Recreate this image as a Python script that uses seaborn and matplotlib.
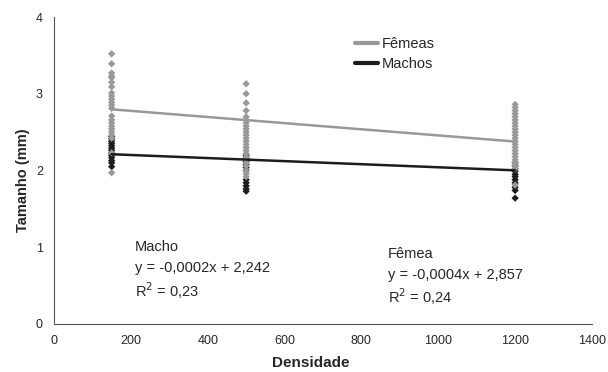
import pandas as pd
import numpy as np
import matplotlib
matplotlib.use("Agg")
import matplotlib.pyplot as plt
import seaborn as sns

# densidades avaliadas
densidades = [150, 500, 1200]

# tamanhos (mm)
femeas_150 = [3.52, 3.39, 3.27, 3.23, 3.21, 3.15, 3.09, 3.01, 2.97, 2.93, 2.89, 2.85,
              2.81, 2.71, 2.66, 2.62, 2.58, 2.54, 2.50, 2.46, 2.42, 2.23, 1.97]
femeas_500 = [3.13, 3.00, 2.88, 2.78, 2.70, 2.66, 2.62, 2.58, 2.54, 2.50, 2.46, 2.42,
              2.38, 2.34, 2.30, 2.26, 2.22, 2.18, 2.14, 2.10, 2.06, 2.00, 1.96, 1.92]
femeas_1200 = [2.86, 2.82, 2.78, 2.74, 2.70, 2.66, 2.62, 2.58, 2.54, 2.50, 2.46, 2.42,
               2.38, 2.34, 2.30, 2.26, 2.22, 2.18, 2.14, 2.10, 2.06, 2.02, 1.81]
machos_150 = [2.44, 2.41, 2.38, 2.35, 2.32, 2.29, 2.26, 2.23, 2.20, 2.17, 2.13, 2.10, 2.05]
machos_500 = [2.20, 2.16, 2.12, 2.08, 2.04, 2.00, 1.88, 1.84, 1.80, 1.76, 1.73]
machos_1200 = [2.10, 2.06, 2.02, 1.99, 1.95, 1.92, 1.88, 1.84, 1.78, 1.74, 1.64]

# regressoes
coef_femea = (-0.0004, 2.857)
coef_macho = (-0.0002, 2.242)

cinza = "#999999"
preto = "#1c1c1c"

linhas = []
for sexo, grupos in [("Machos", [machos_150, machos_500, machos_1200]),
                     ("Fêmeas", [femeas_150, femeas_500, femeas_1200])]:
    for d, vals in zip(densidades, grupos):
        for v in vals:
            linhas.append({"Densidade": d, "Tamanho": v, "Sexo": sexo})
df = pd.DataFrame(linhas)

sns.set_style("white")
plt.rcParams["font.family"] = ["Liberation Sans", "DejaVu Sans"]

fig = plt.figure(figsize=(6.08, 3.72), dpi=100)
ax = fig.add_axes([54 / 608, 1 - 324 / 372, 538 / 608, 307 / 372])

sns.scatterplot(data=df, x="Densidade", y="Tamanho", hue="Sexo",
                hue_order=["Machos", "Fêmeas"], palette={"Machos": preto, "Fêmeas": cinza},
                marker="D", s=14, linewidth=0, legend=False, ax=ax, zorder=2)

xs = np.array([densidades[0], densidades[-1]])
ln_f, = ax.plot(xs, coef_femea[0] * xs + coef_femea[1], color=cinza, lw=1.8, zorder=3)
ln_m, = ax.plot(xs, coef_macho[0] * xs + coef_macho[1], color=preto, lw=1.8, zorder=3)

ax.legend([ln_f, ln_m], ["Fêmeas", "Machos"], loc="upper left",
          bbox_to_anchor=(0.548, 0.955), frameon=False, fontsize=10.5,
          handlelength=1.6, handletextpad=0.25, labelspacing=0.45,
          borderaxespad=0)
for h in ax.get_legend().legend_handles:
    h.set_linewidth(3)

ax.set_xlim(0, 1400)
ax.set_ylim(0, 4)
ax.set_xticks(range(0, 1401, 200))
ax.set_yticks(range(0, 5))
for s in ["top", "right"]:
    ax.spines[s].set_visible(False)
for s in ["left", "bottom"]:
    ax.spines[s].set_color("#555555")
    ax.spines[s].set_linewidth(0.8)
ax.tick_params(axis="x", direction="in", length=3, color="#555555", labelsize=9, pad=8)
ax.tick_params(axis="y", direction="out", length=4, color="#555555", labelsize=9, pad=4)
ax.set_xlabel("Densidade", fontsize=11, fontweight="bold")
ax.set_ylabel("Tamanho (mm)", fontsize=10.5, fontweight="bold")
ax.xaxis.set_label_coords(0.478, -0.105)
ax.yaxis.set_label_coords(-0.045, 0.469)

fs = 10.5
ax.text(210, 1.00, "Macho", fontsize=fs, va="center")
ax.text(210, 0.73, "y = -0,0002x + 2,242", fontsize=fs, va="center")
ax.text(210, 0.44, "R$^2$ = 0,23", fontsize=fs, va="center")
ax.text(869, 0.91, "Fêmea", fontsize=fs, va="center")
ax.text(869, 0.64, "y = -0,0004x + 2,857", fontsize=fs, va="center")
ax.text(869, 0.35, "R$^2$ = 0,24", fontsize=fs, va="center")

fig.savefig("out.png", dpi=100)
